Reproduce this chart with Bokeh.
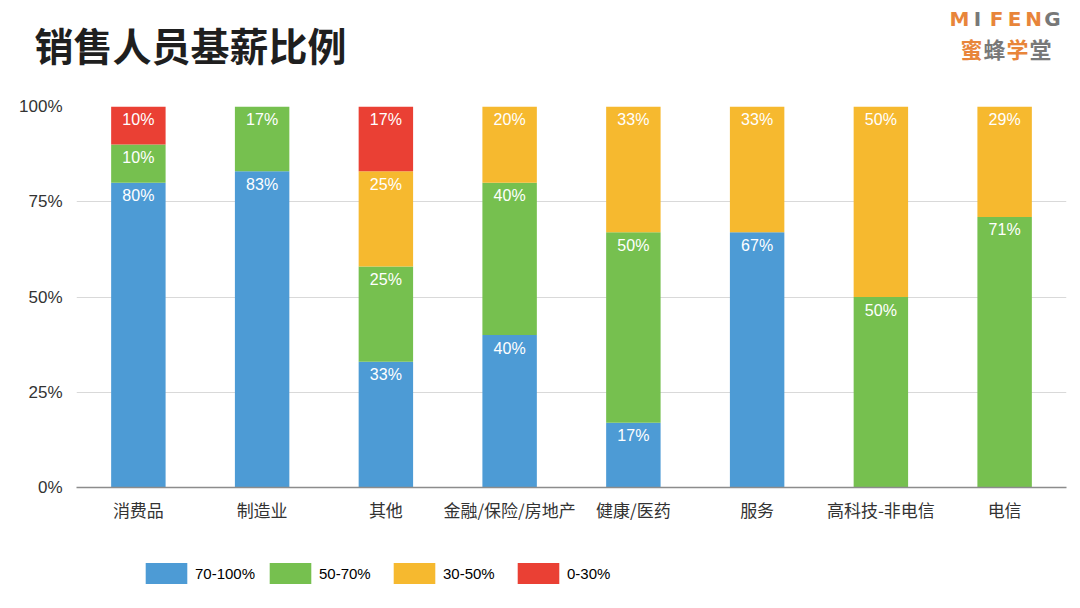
from bokeh.plotting import figure
from bokeh.layouts import column
from bokeh.models import (ColumnDataSource, FixedTicker, Label, Legend,
                          LegendItem, Range1d)
from bokeh.core.properties import value
from bokeh.embed import file_html
from bokeh.resources import INLINE

categories = ["消费品", "制造业", "其他", "金融/保险/房地产", "健康/医药",
              "服务", "高科技-非电信", "电信"]
bands = ["70-100%", "50-70%", "30-50%", "0-30%"]
band_70_100 = [80, 83, 33, 40, 17, 67, 0, 0]
band_50_70 = [10, 17, 25, 40, 50, 0, 50, 71]
band_30_50 = [0, 0, 25, 20, 33, 33, 50, 29]
band_0_30 = [10, 0, 17, 0, 0, 0, 0, 0]
y_ticks = [0, 25, 50, 75, 100]
y_tick_labels = ["0%", "25%", "50%", "75%", "100%"]

colors = ["#4d9bd5", "#76c04f", "#f6b92f", "#ea4034"]
ORANGE, GREY = "#e8853a", "#787878"
CJK = "Noto Sans CJK SC"
NUM = "Liberation Sans"
W = 1072
FRAME_L, FRAME_R = 76, 1066          # chart frame, canvas px
HEAD_H, CHART_H, LEG_H = 80, 447, 73


def blank(height):
    # frame = whole canvas, data units = canvas px (y up)
    f = figure(width=W, height=height, x_range=Range1d(0, W),
               y_range=Range1d(0, height), output_backend="svg",
               toolbar_location=None, min_border=0)
    f.frame_align = False
    f.axis.visible = False
    f.grid.visible = False
    f.outline_line_color = None
    return f


# ---- header: title + logo
head = blank(HEAD_H)
head.add_layout(Label(x=34, y=HEAD_H - 43, text="销售人员基薪比例",
                      text_font=CJK, text_font_size="39px",
                      text_font_style="bold", text_color="#1f1f1f",
                      text_align="left", text_baseline="middle"))
for ch, cx, col in zip("MIFENG", [959, 977, 996, 1014, 1033, 1052],
                       [ORANGE, GREY, ORANGE, ORANGE, ORANGE, GREY]):
    head.add_layout(Label(x=cx, y=HEAD_H - 18, text=ch,
                          text_font="DejaVu Sans", text_font_size="20px",
                          text_font_style="bold", text_color=col,
                          text_align="center", text_baseline="middle"))
for ch, cx, col in zip("蜜蜂学堂", [971, 994, 1017, 1040],
                       [ORANGE, GREY, ORANGE, GREY]):
    head.add_layout(Label(x=cx, y=HEAD_H - 47, text=ch, text_font=CJK,
                          text_font_size="22px", text_font_style="bold",
                          text_color=col, text_align="center",
                          text_baseline="middle"))

# ---- chart
series = [band_70_100, band_50_70, band_30_50, band_0_30]
src = ColumnDataSource(dict(cat=categories, **{b: s for b, s in zip(bands, series)}))

p = figure(x_range=categories, y_range=Range1d(0, 100), width=W, height=CHART_H,
           output_backend="svg", toolbar_location=None,
           min_border_left=FRAME_L, min_border_right=W - FRAME_R,
           min_border_top=26, min_border_bottom=40)
p.frame_align = False
p.outline_line_color = None

p.vbar_stack(bands, x="cat", width=0.44, color=colors, line_color=None,
             source=src)

# segment labels at top of each segment
lx, ly, lt = [], [], []
for i, c in enumerate(categories):
    top = 0
    for s in series:
        v = s[i]
        top += v
        if v > 0:
            lx.append(c)
            ly.append(top)
            lt.append(f"{v}%")
p.text(x=lx, y=ly, text=lt, text_align="center", text_baseline="middle",
       y_offset=13, text_color="white", text_font=value(NUM),
       text_font_size="16px")

p.yaxis.ticker = FixedTicker(ticks=y_ticks)
p.yaxis.major_label_overrides = dict(zip(y_ticks, y_tick_labels))
p.yaxis.axis_line_color = None
p.yaxis.major_tick_line_color = None
p.yaxis.major_tick_out = 0
p.yaxis.minor_tick_line_color = None
p.yaxis.major_label_standoff = 14
p.yaxis.major_label_text_font = NUM
p.yaxis.major_label_text_font_size = "17px"
p.yaxis.major_label_text_color = "#333333"

p.xaxis.axis_line_color = "#8c8c8c"
p.xaxis.axis_line_width = 1.5
p.xaxis.major_tick_line_color = None
p.xaxis.major_tick_out = 0
p.xaxis.major_label_standoff = 9
p.xaxis.major_label_text_font = CJK
p.xaxis.major_label_text_font_size = "17px"
p.xaxis.major_label_text_color = "#333333"

p.xgrid.grid_line_color = None
p.ygrid.ticker = FixedTicker(ticks=y_ticks)
p.ygrid.grid_line_color = "#d9d9d9"

# ---- legend strip
leg = blank(LEG_H)
items = []
for b, c in zip(bands, colors):
    # one point far outside the view, only there to give the legend a swatch
    r = leg.rect(x=[-1e4], y=[-1e4], width=1, height=1, fill_color=c,
                 line_color=None)
    items.append(LegendItem(label=b, renderers=[r]))
legend = Legend(items=items, orientation="horizontal", location=(140, 14),
                glyph_width=52, glyph_height=26, label_standoff=3,
                label_width=61, label_height=26, spacing=8, padding=0,
                margin=0, border_line_color=None, background_fill_alpha=0,
                label_text_font=NUM, label_text_font_size="15px",
                label_text_color="#000000")
leg.add_layout(legend, "center")

layout = column(head, p, leg, spacing=0)
open("out.html", "w").write(file_html(layout, INLINE))
